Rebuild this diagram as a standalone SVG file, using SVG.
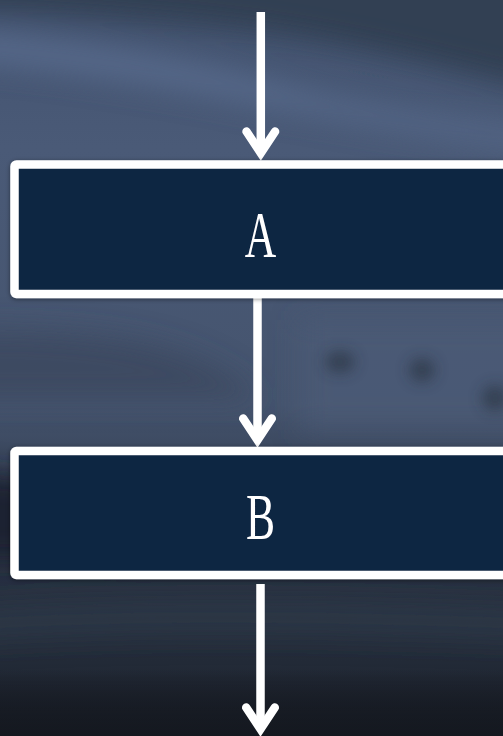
<svg xmlns="http://www.w3.org/2000/svg" width="503" height="736" viewBox="0 0 503 736">
  <defs>
    <linearGradient id="bgBase" x1="0" y1="0" x2="0" y2="1">
      <stop offset="0" stop-color="#435370"/>
      <stop offset="0.2" stop-color="#4a5a77"/>
      <stop offset="0.55" stop-color="#45546e"/>
      <stop offset="0.72" stop-color="#2c3647"/>
      <stop offset="0.9" stop-color="#232b38"/>
      <stop offset="1" stop-color="#181c25"/>
    </linearGradient>
    <linearGradient id="floorShade" x1="0" y1="0" x2="0" y2="1">
      <stop offset="0" stop-color="#161a22" stop-opacity="0"/>
      <stop offset="0.55" stop-color="#161a22" stop-opacity="0.75"/>
      <stop offset="1" stop-color="#14181f" stop-opacity="0.9"/>
    </linearGradient>
    <filter id="soft" x="-50%" y="-50%" width="200%" height="200%">
      <feGaussianBlur stdDeviation="14"/>
    </filter>
    <filter id="softer" x="-50%" y="-50%" width="200%" height="200%">
      <feGaussianBlur stdDeviation="7"/>
    </filter>
    <filter id="shadow" x="-10%" y="-20%" width="120%" height="140%">
      <feDropShadow dx="0" dy="1" stdDeviation="2" flood-color="#000" flood-opacity="0.45"/>
    </filter>
  </defs>
  <style>
    .box { fill: #112542; stroke: #ffffff; stroke-width: 8.5; }
    .label { font-family: "Liberation Serif", "DejaVu Serif", serif; font-size: 66px; fill: #ffffff; text-anchor: middle; }
    .shaft { stroke: #ffffff; stroke-width: 8.5; fill: none; }
    .head { stroke: #ffffff; stroke-width: 8.5; fill: none; stroke-linecap: round; stroke-linejoin: miter; stroke-miterlimit: 10; }
  </style>

  <!-- blurred backdrop -->
  <g id="backdrop">
    <rect x="0" y="0" width="503" height="736" fill="url(#bgBase)"/>
    <g filter="url(#soft)">
      <path d="M -40 -40 L 560 -40 L 560 95 C 450 70 350 40 200 25 C 120 18 40 10 -40 10 Z" fill="#323f53"/>
      <path d="M -40 30 C 80 40 200 60 300 90 C 380 110 450 120 560 135 L 560 150 C 450 140 350 120 260 105 C 160 85 60 70 -40 60 Z" fill="#56698a"/>
      <path d="M -40 330 C 100 330 200 340 260 400 L -40 400 Z" fill="#3b475e" opacity="0.8"/>
      <rect x="300" y="320" width="260" height="110" fill="#4b5b77" opacity="0.7"/>
      <path d="M -40 470 L 120 490 L 120 560 L -40 560 Z" fill="#1d2430"/>
      <path d="M -40 610 C 120 600 300 600 560 610 L 560 640 C 300 630 120 630 -40 640 Z" fill="#2f3a4b" opacity="0.7"/>
    </g>
    <rect x="0" y="670" width="503" height="66" fill="url(#floorShade)"/>
    <g filter="url(#softer)" fill="#2b3442" opacity="0.65">
      <ellipse cx="340" cy="362" rx="15" ry="11"/>
      <ellipse cx="422" cy="370" rx="13" ry="12"/>
      <ellipse cx="495" cy="398" rx="13" ry="13"/>
    </g>
  </g>

  <!-- connectors -->
  <g id="connectors">
    <line class="shaft" x1="260.8" y1="12" x2="260.8" y2="150"/>
    <path class="head" d="M 246.5 131.5 L 260.8 153 L 275.1 131.5"/>

    <line class="shaft" x1="257.5" y1="298" x2="257.5" y2="437"/>
    <path class="head" d="M 243.2 418.5 L 257.5 440 L 271.8 418.5"/>

    <line class="shaft" x1="260.5" y1="584" x2="260.5" y2="726"/>
    <path class="head" d="M 246.2 707.5 L 260.5 729 L 274.8 707.5"/>
  </g>

  <!-- node A -->
  <g id="node-a" filter="url(#shadow)">
    <rect class="box" x="14.5" y="164.5" width="500" height="129.5" rx="2"/>
    <text class="label" transform="translate(260.5 257) scale(0.66 1)">A</text>
  </g>

  <!-- node B -->
  <g id="node-b" filter="url(#shadow)">
    <rect class="box" x="14.5" y="451" width="500" height="124" rx="2"/>
    <text class="label" transform="translate(260.5 539) scale(0.66 1)">B</text>
  </g>
</svg>
